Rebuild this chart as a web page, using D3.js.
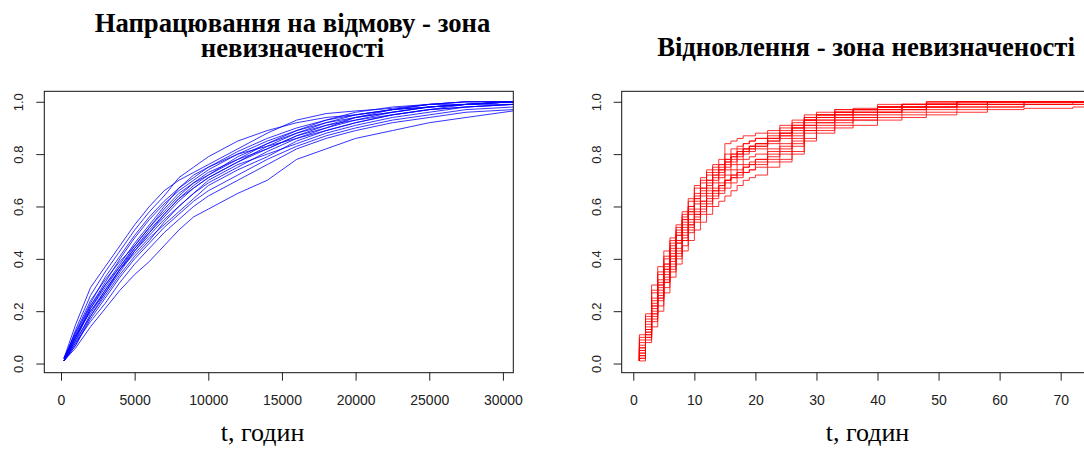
<!DOCTYPE html>
<html>
<head>
<meta charset="UTF-8">
<title>Зона невизначеності</title>
<script src="https://cdnjs.cloudflare.com/ajax/libs/d3/7.8.5/d3.min.js"></script>
<style>
    body { margin: 0; background: #fff; }
    .tick text { fill: #222; font-family: "Liberation Sans", Arial, sans-serif; }
    .tick line { stroke: #222; }
    .title { font-family: "Liberation Serif", "Times New Roman", serif; font-weight: bold; fill: #000; }
    .xlab { font-family: "Liberation Serif", "Times New Roman", serif; fill: #000; }
</style>
</head>
<body>
<script>

    // time to failure (hours) and the bootstrap curves read at those times
    var failTimes = [200, 1000, 2000, 3000, 4000, 5000, 6000, 7000, 8000, 9000, 10000,
                     12000, 14000, 16000, 18000, 20000, 22500, 25000, 27500, 30700];

    var failCurves = [
        [0.02, 0.15, 0.29, 0.37, 0.45, 0.53, 0.60, 0.66, 0.70, 0.73, 0.76, 0.82, 0.88, 0.93, 0.955, 0.965, 0.975, 0.99, 1.0, 1.0],
        [0.01, 0.06, 0.14, 0.21, 0.28, 0.34, 0.39, 0.45, 0.51, 0.56, 0.59, 0.65, 0.70, 0.78, 0.82, 0.86, 0.89, 0.92, 0.94, 0.965],
        [0.01, 0.10, 0.22, 0.31, 0.40, 0.48, 0.55, 0.61, 0.66, 0.70, 0.74, 0.80, 0.85, 0.89, 0.92, 0.94, 0.96, 0.98, 0.99, 1.0],
        [0.02, 0.12, 0.24, 0.32, 0.39, 0.45, 0.52, 0.59, 0.65, 0.69, 0.72, 0.78, 0.84, 0.88, 0.91, 0.93, 0.95, 0.97, 0.98, 0.99],
        [0.01, 0.08, 0.19, 0.28, 0.36, 0.44, 0.50, 0.56, 0.62, 0.67, 0.71, 0.77, 0.82, 0.87, 0.90, 0.93, 0.96, 0.98, 0.99, 1.0],
        [0.01, 0.09, 0.21, 0.30, 0.38, 0.46, 0.53, 0.60, 0.67, 0.72, 0.75, 0.80, 0.83, 0.86, 0.89, 0.92, 0.95, 0.97, 0.98, 0.99],
        [0.02, 0.11, 0.20, 0.27, 0.35, 0.43, 0.49, 0.55, 0.60, 0.65, 0.69, 0.75, 0.81, 0.86, 0.90, 0.94, 0.97, 0.99, 1.0, 1.0],
        [0.01, 0.07, 0.17, 0.25, 0.33, 0.40, 0.46, 0.52, 0.57, 0.62, 0.66, 0.72, 0.78, 0.83, 0.87, 0.90, 0.93, 0.95, 0.97, 0.98],
        [0.01, 0.13, 0.26, 0.35, 0.43, 0.51, 0.58, 0.64, 0.71, 0.75, 0.79, 0.85, 0.89, 0.92, 0.94, 0.95, 0.97, 0.98, 0.99, 1.0],
        [0.01, 0.09, 0.18, 0.26, 0.34, 0.41, 0.47, 0.54, 0.60, 0.65, 0.70, 0.76, 0.80, 0.84, 0.88, 0.91, 0.94, 0.96, 0.98, 0.99],
        [0.02, 0.10, 0.21, 0.29, 0.37, 0.44, 0.51, 0.57, 0.63, 0.68, 0.72, 0.79, 0.84, 0.89, 0.93, 0.96, 0.98, 0.99, 1.0, 1.0],
        [0.01, 0.08, 0.16, 0.23, 0.31, 0.38, 0.44, 0.50, 0.55, 0.60, 0.64, 0.70, 0.76, 0.82, 0.86, 0.89, 0.92, 0.94, 0.96, 0.97],
        [0.01, 0.11, 0.23, 0.33, 0.41, 0.49, 0.56, 0.62, 0.67, 0.71, 0.75, 0.81, 0.86, 0.90, 0.93, 0.95, 0.97, 0.99, 0.99, 1.0],
        [0.01, 0.07, 0.18, 0.27, 0.36, 0.42, 0.48, 0.53, 0.58, 0.63, 0.68, 0.74, 0.79, 0.85, 0.89, 0.92, 0.95, 0.97, 0.99, 1.0],
        [0.02, 0.12, 0.22, 0.30, 0.37, 0.45, 0.52, 0.58, 0.64, 0.69, 0.73, 0.78, 0.82, 0.87, 0.91, 0.94, 0.96, 0.98, 0.99, 0.99],
        [0.01, 0.10, 0.20, 0.28, 0.36, 0.43, 0.50, 0.57, 0.63, 0.67, 0.71, 0.77, 0.83, 0.88, 0.92, 0.95, 0.97, 0.98, 0.99, 1.0]
    ];

    // time to repair (hours), step curves
    var repairTimes = [1, 2, 3, 4, 5, 6, 7, 8, 9, 10, 11, 12, 13, 14, 15, 16, 17, 18, 19, 20,
                       22, 24, 26, 28, 30, 33, 36, 40, 44, 48, 53, 58, 64, 72];
    var repairStart = 0.01;

    var repairCurves = [
        [0.11, 0.19, 0.30, 0.37, 0.43, 0.48, 0.53, 0.58, 0.63, 0.67, 0.70, 0.73, 0.75, 0.76, 0.78, 0.80, 0.81, 0.82, 0.83, 0.84, 0.86, 0.88, 0.90, 0.93, 0.95, 0.96, 0.97, 0.98, 0.98, 0.99, 0.99, 1.0, 1.0, 1.0],
        [0.01, 0.08, 0.14, 0.20, 0.27, 0.33, 0.38, 0.43, 0.47, 0.51, 0.54, 0.57, 0.60, 0.62, 0.64, 0.66, 0.68, 0.70, 0.71, 0.72, 0.75, 0.77, 0.80, 0.85, 0.88, 0.90, 0.91, 0.93, 0.94, 0.95, 0.96, 0.97, 0.975, 0.98],
        [0.05, 0.13, 0.22, 0.29, 0.36, 0.43, 0.49, 0.55, 0.60, 0.65, 0.69, 0.72, 0.74, 0.76, 0.84, 0.85, 0.86, 0.87, 0.87, 0.88, 0.89, 0.91, 0.93, 0.95, 0.96, 0.97, 0.975, 0.99, 0.99, 0.995, 1.0, 1.0, 1.0, 1.0],
        [0.03, 0.10, 0.17, 0.24, 0.31, 0.37, 0.42, 0.47, 0.52, 0.56, 0.59, 0.62, 0.65, 0.67, 0.70, 0.72, 0.74, 0.76, 0.77, 0.78, 0.81, 0.83, 0.86, 0.90, 0.92, 0.94, 0.95, 0.96, 0.97, 0.98, 0.99, 0.99, 1.0, 1.0],
        [0.08, 0.16, 0.25, 0.32, 0.38, 0.44, 0.49, 0.54, 0.58, 0.62, 0.65, 0.68, 0.71, 0.73, 0.76, 0.78, 0.80, 0.81, 0.82, 0.83, 0.85, 0.87, 0.89, 0.92, 0.94, 0.95, 0.96, 0.97, 0.98, 0.99, 0.99, 1.0, 1.0, 1.0],
        [0.02, 0.09, 0.16, 0.22, 0.29, 0.35, 0.40, 0.45, 0.50, 0.54, 0.57, 0.60, 0.63, 0.65, 0.67, 0.69, 0.71, 0.73, 0.74, 0.75, 0.78, 0.80, 0.83, 0.88, 0.90, 0.92, 0.93, 0.95, 0.96, 0.97, 0.98, 0.98, 0.99, 0.99],
        [0.06, 0.14, 0.24, 0.31, 0.37, 0.42, 0.47, 0.52, 0.57, 0.61, 0.64, 0.67, 0.70, 0.72, 0.75, 0.77, 0.79, 0.81, 0.82, 0.83, 0.85, 0.87, 0.90, 0.93, 0.94, 0.96, 0.97, 0.98, 0.99, 0.99, 1.0, 1.0, 1.0, 1.0],
        [0.04, 0.11, 0.19, 0.27, 0.34, 0.40, 0.46, 0.51, 0.55, 0.59, 0.62, 0.65, 0.67, 0.69, 0.72, 0.74, 0.76, 0.78, 0.79, 0.80, 0.82, 0.84, 0.87, 0.91, 0.93, 0.94, 0.95, 0.97, 0.98, 0.98, 0.99, 1.0, 1.0, 1.0],
        [0.09, 0.18, 0.27, 0.34, 0.40, 0.46, 0.51, 0.57, 0.62, 0.68, 0.71, 0.74, 0.76, 0.78, 0.80, 0.82, 0.83, 0.84, 0.85, 0.86, 0.88, 0.90, 0.92, 0.94, 0.95, 0.96, 0.97, 0.98, 0.99, 1.0, 1.0, 1.0, 1.0, 1.0],
        [0.02, 0.10, 0.18, 0.25, 0.32, 0.38, 0.43, 0.48, 0.53, 0.57, 0.60, 0.63, 0.66, 0.68, 0.70, 0.72, 0.73, 0.75, 0.76, 0.77, 0.79, 0.81, 0.84, 0.89, 0.91, 0.93, 0.94, 0.96, 0.97, 0.98, 0.98, 0.99, 0.99, 1.0],
        [0.07, 0.15, 0.23, 0.30, 0.36, 0.41, 0.46, 0.50, 0.54, 0.58, 0.62, 0.66, 0.69, 0.71, 0.74, 0.76, 0.78, 0.80, 0.81, 0.82, 0.84, 0.86, 0.88, 0.91, 0.93, 0.95, 0.96, 0.97, 0.98, 0.99, 0.99, 1.0, 1.0, 1.0],
        [0.03, 0.12, 0.20, 0.28, 0.35, 0.41, 0.47, 0.53, 0.58, 0.63, 0.66, 0.69, 0.72, 0.74, 0.77, 0.79, 0.81, 0.82, 0.83, 0.84, 0.86, 0.88, 0.91, 0.93, 0.95, 0.96, 0.97, 0.98, 0.99, 0.99, 1.0, 1.0, 1.0, 1.0],
        [0.05, 0.12, 0.21, 0.26, 0.33, 0.39, 0.44, 0.49, 0.53, 0.57, 0.61, 0.64, 0.66, 0.68, 0.70, 0.71, 0.72, 0.73, 0.74, 0.76, 0.77, 0.78, 0.81, 0.86, 0.89, 0.91, 0.93, 0.94, 0.95, 0.96, 0.97, 0.98, 0.99, 0.99],
        [0.10, 0.17, 0.28, 0.35, 0.41, 0.47, 0.52, 0.56, 0.60, 0.64, 0.67, 0.70, 0.73, 0.75, 0.78, 0.80, 0.82, 0.84, 0.85, 0.86, 0.87, 0.89, 0.91, 0.94, 0.95, 0.97, 0.97, 0.98, 0.99, 1.0, 1.0, 1.0, 1.0, 1.0],
        [0.04, 0.11, 0.19, 0.25, 0.31, 0.36, 0.41, 0.47, 0.51, 0.55, 0.58, 0.61, 0.64, 0.66, 0.69, 0.71, 0.73, 0.75, 0.76, 0.78, 0.80, 0.82, 0.85, 0.89, 0.92, 0.93, 0.94, 0.96, 0.97, 0.98, 0.99, 0.99, 1.0, 1.0],
        [0.06, 0.13, 0.22, 0.30, 0.38, 0.45, 0.50, 0.55, 0.59, 0.63, 0.67, 0.70, 0.72, 0.74, 0.77, 0.79, 0.80, 0.82, 0.83, 0.84, 0.86, 0.88, 0.90, 0.93, 0.94, 0.95, 0.96, 0.98, 0.98, 0.99, 1.0, 1.0, 1.0, 1.0]
    ];

    var failTicks = [0, 5000, 10000, 15000, 20000, 25000, 30000];
    var repairTicks = [0, 10, 20, 30, 40, 50, 60, 70];
    var yTicks = [0, 0.2, 0.4, 0.6, 0.8, 1.0];

    var w = 1084,
        h = 453;

    var svg = d3.select('body')
            .append('svg')
            .attr('width', w)
            .attr('height', h);

    var plotTop = 91.3,
        plotBottom = 372.7;

    var y = d3.scaleLinear().domain([-0.035, 1.04]).range([plotBottom, plotTop]);

    function drawPanel(id, left, right, xDomain, xTicks, color, lineGen, series) {
        var x = d3.scaleLinear().domain(xDomain).range([left, right]);
        var g = svg.append('g');

        g.append('clipPath')
                .attr('id', id)
                .append('rect')
                .attr('x', left)
                .attr('y', plotTop)
                .attr('width', right - left)
                .attr('height', plotBottom - plotTop);

        lineGen.x(function(d) { return x(d[0]); })
               .y(function(d) { return y(d[1]); });

        g.append('g')
                .attr('clip-path', 'url(#' + id + ')')
                .selectAll('path')
                .data(series)
                .enter()
                .append('path')
                .attr('d', lineGen)
                .attr('fill', 'none')
                .attr('stroke', color)
                .attr('stroke-width', 1)
                .attr('stroke-opacity', 0.8);

        g.append('rect')
                .attr('x', left)
                .attr('y', plotTop)
                .attr('width', right - left)
                .attr('height', plotBottom - plotTop)
                .attr('fill', 'none')
                .attr('stroke', '#111')
                .attr('stroke-width', 1);

        var xAxis = g.append('g')
                .attr('transform', 'translate(0,' + plotBottom + ')')
                .call(d3.axisBottom(x).tickValues(xTicks).tickSize(8).tickPadding(14.4).tickFormat(d3.format('d')));
        xAxis.select('.domain').remove();
        xAxis.selectAll('text').style('font-size', '14px');

        var yAxis = g.append('g')
                .attr('transform', 'translate(' + left + ',0)')
                .call(d3.axisLeft(y).tickValues(yTicks).tickSize(8).tickFormat(d3.format('.1f')));
        yAxis.select('.domain').remove();
        yAxis.selectAll('text')
                .style('font-size', '13px')
                .attr('text-anchor', 'middle')
                .attr('transform', 'rotate(-90)')
                .attr('x', 0)
                .attr('y', -21.2)
                .attr('dy', 0);
    }

    var failSeries = failCurves.map(function(c) {
        return c.map(function(v, i) { return [failTimes[i], v]; });
    });

    var repairEnd = 76;
    var repairSeries = repairCurves.map(function(c) {
        var pts = [[repairTimes[0], repairStart]];
        c.forEach(function(v, i) { pts.push([repairTimes[i], v]); });
        pts.push([repairEnd, c[c.length - 1]]);
        return pts;
    });

    drawPanel('clipFail', 44.3, 513.3, [-1134, 30706], failTicks, 'rgb(0, 0, 255)',
            d3.line(), failSeries);
    drawPanel('clipRepair', 621.7, 1091.2, [-1.9, 75], repairTicks, 'rgb(255, 0, 0)',
            d3.line().curve(d3.curveStepAfter), repairSeries);

    // titles
    var titleSize = '26.7px';
    svg.append('text').attr('class', 'title')
            .attr('x', 292.5).attr('y', 32)
            .attr('text-anchor', 'middle').style('font-size', titleSize)
            .text('Напрацювання на відмову - зона');
    svg.append('text').attr('class', 'title')
            .attr('x', 292.5).attr('y', 57)
            .attr('text-anchor', 'middle').style('font-size', titleSize)
            .text('невизначеності');
    svg.append('text').attr('class', 'title')
            .attr('x', 866).attr('y', 56)
            .attr('text-anchor', 'middle').style('font-size', titleSize)
            .text('Відновлення - зона невизначеності');

    svg.append('text').attr('class', 'xlab')
            .attr('x', 262.6).attr('y', 441)
            .attr('text-anchor', 'middle').style('font-size', '26px')
            .text('t, годин');
    svg.append('text').attr('class', 'xlab')
            .attr('x', 867.5).attr('y', 441)
            .attr('text-anchor', 'middle').style('font-size', '26px')
            .text('t, годин');

</script>
</body>
</html>
